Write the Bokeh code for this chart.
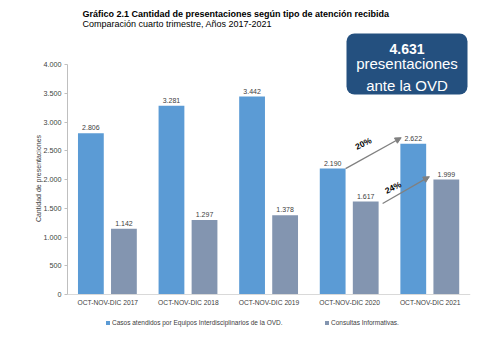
from bokeh.plotting import figure
from bokeh.models import (Range1d, FixedTicker, Label, BoxAnnotation, Arrow, NormalHead,
                          Legend, LegendItem, ColumnDataSource)
from bokeh.core.properties import value
from bokeh.embed import file_html
from bokeh.resources import INLINE

categories = ["OCT-NOV-DIC 2017", "OCT-NOV-DIC 2018", "OCT-NOV-DIC 2019",
              "OCT-NOV-DIC 2020", "OCT-NOV-DIC 2021"]
casos = [2806, 3281, 3442, 2190, 2622]
consultas = [1142, 1297, 1378, 1617, 1999]
y_ticks = [0, 500, 1000, 1500, 2000, 2500, 3000, 3500, 4000]
series_names = ["Casos atendidos por Equipos Interdisciplinarios de la OVD.", "Consultas Informativas."]
total_text = "4.631"
pct_labels = ["20%", "24%"]

def fmt(v):
    return f"{v:,}".replace(",", ".")

BLUE = "#5B9BD5"
GRAY = "#8395B0"
FONT = "Liberation Sans"
OFF_B, OFF_G, W = -0.21, 0.20, 0.32
Y_MAX = 4000
PX = Y_MAX / 230.0           # data units per pixel (0..4000 spans 230 px)
Y_TOP = Y_MAX + 64 * PX      # frame reaches the top of the canvas
Y_BOT = -62 * PX             # and its bottom; axes are bounded to the data span

p = figure(width=500, height=356, output_backend="svg", toolbar_location=None,
           x_range=Range1d(0, len(categories)), y_range=Range1d(Y_BOT, Y_TOP),
           min_border_left=67, min_border_right=30, min_border_top=0, min_border_bottom=0)
p.outline_line_color = None
p.xgrid.visible = False
p.ygrid.visible = False

xc = [i + 0.5 for i in range(len(categories))]
xb = [x + OFF_B for x in xc]
xg = [x + OFF_G for x in xc]
src_b = ColumnDataSource(dict(x=xb, top=casos, lab=[fmt(v) for v in casos]))
src_g = ColumnDataSource(dict(x=xg, top=consultas, lab=[fmt(v) for v in consultas]))
rb = p.vbar(x="x", top="top", bottom=0, width=W, source=src_b, fill_color=BLUE, line_color=None)
rg = p.vbar(x="x", top="top", bottom=0, width=W, source=src_g, fill_color=GRAY, line_color=None)

for src in (src_b, src_g):
    p.text(x="x", y="top", text="lab", source=src, text_align="center", text_baseline="bottom",
           y_offset=-3, text_font_size="7px", text_color="#404040", text_font=value(FONT))

# axes
p.xaxis.fixed_location = 0
p.xaxis.ticker = FixedTicker(ticks=xc)
p.xaxis.major_label_overrides = {x: c for x, c in zip(xc, categories)}
p.xaxis.major_tick_out = 0
p.xaxis.major_tick_in = 0
p.xaxis.major_tick_line_color = None
p.xaxis.minor_tick_line_color = None
p.xaxis.axis_line_color = "#D9D9D9"
p.xaxis.major_label_text_font_size = "6.7px"
p.xaxis.major_label_text_color = "#404040"
p.xaxis.major_label_text_font = FONT
p.xaxis.major_label_standoff = 4

p.yaxis.ticker = FixedTicker(ticks=y_ticks)
p.yaxis.bounds = (0, Y_MAX)
p.yaxis.major_label_overrides = {t: fmt(t) for t in y_ticks}
p.yaxis.minor_tick_line_color = None
p.yaxis.major_tick_in = 0
p.yaxis.major_tick_out = 3
p.yaxis.major_tick_line_color = "#BFBFBF"
p.yaxis.axis_line_color = "#BFBFBF"
p.yaxis.major_label_text_font_size = "7.2px"
p.yaxis.major_label_text_color = "#404040"
p.yaxis.major_label_text_font = FONT
p.yaxis.major_label_standoff = 3
p.yaxis.axis_label = "Cantidad de presentaciones"
p.yaxis.axis_label_text_font_size = "7px"
p.yaxis.axis_label_text_font_style = "normal"
p.yaxis.axis_label_text_color = "#404040"
p.yaxis.axis_label_text_font = FONT
p.yaxis.axis_label_standoff = -1

# title (screen units relative to frame: x from left, y up from bottom)
p.add_layout(Label(x=15, y=343, x_units="screen", y_units="screen",
                   text="Gráfico 2.1 Cantidad de presentaciones según tipo de atención recibida",
                   text_font=FONT, text_font_size="9px", text_font_style="bold", text_color="#000000",
                   text_baseline="alphabetic"))
p.add_layout(Label(x=15, y=333, x_units="screen", y_units="screen",
                   text="Comparación cuarto trimestre, Años 2017-2021",
                   text_font=FONT, text_font_size="9px", text_color="#000000",
                   text_baseline="alphabetic"))

# highlighted box
p.add_layout(BoxAnnotation(left=279, right=400, top=323, bottom=262,
                           left_units="screen", right_units="screen", top_units="screen", bottom_units="screen",
                           fill_color="#24507F", fill_alpha=1, line_color=None, border_radius=8,
                           level="overlay"))
for txt, yy, sz, st in [(total_text, 308, "14px", "bold"), ("presentaciones", 293, "15px", "normal"),
                        ("ante la OVD", 271, "15px", "normal")]:
    p.add_layout(Label(x=339.5, y=yy, x_units="screen", y_units="screen", text=txt,
                       text_align="center", text_baseline="alphabetic", text_font=FONT,
                       text_font_size=sz, text_font_style=st, text_color="white", level="overlay"))

# arrows
ARROW_C = "#808080"
p.add_layout(Arrow(x_start=xb[3] + W / 2, y_start=casos[3], x_end=xb[4] - W / 2 + 0.01, y_end=casos[4] + 105,
                   line_color=ARROW_C, line_width=1.3,
                   end=NormalHead(size=6, fill_color=ARROW_C, line_color=ARROW_C)))
p.add_layout(Arrow(x_start=xg[3] + W / 2 + 0.05, y_start=consultas[3] - 35, x_end=xg[4] - W / 2 - 0.05, y_end=consultas[4] + 50,
                   line_color=ARROW_C, line_width=1.3,
                   end=NormalHead(size=6, fill_color=ARROW_C, line_color=ARROW_C)))
p.add_layout(Label(x=3.67, y=2626, text=pct_labels[0], angle=0.45, text_align="center",
                   text_baseline="middle", text_font=FONT, text_font_size="8.5px",
                   text_font_style="bold", text_color="#000000"))
p.add_layout(Label(x=4.04, y=1861, text=pct_labels[1], angle=0.45, text_align="center",
                   text_baseline="middle", text_font=FONT, text_font_size="8.5px",
                   text_font_style="bold", text_color="#000000"))

# legends (inside the frame, below the category labels)
for r, name, xloc in [(rb, series_names[0], 38), (rg, series_names[1], 257)]:
    lg = Legend(items=[LegendItem(label=name, renderers=[r])], location=(xloc, 30),
                orientation="horizontal", padding=0, margin=0, border_line_color=None,
                background_fill_alpha=0, glyph_width=5, glyph_height=5, label_standoff=2,
                label_text_font_size="6.5px", label_text_color="#404040", label_text_font=FONT,
                label_height=8, label_text_baseline="middle")
    p.add_layout(lg)

open("out.html", "w").write(file_html(p, INLINE))
